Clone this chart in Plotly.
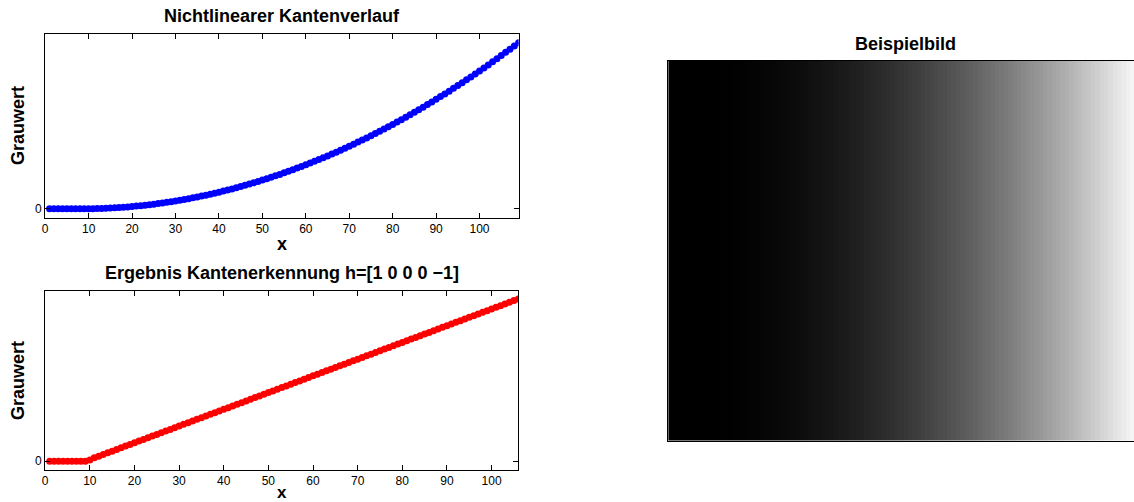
import plotly.graph_objects as go

# Gray-value profile of the nonlinear edge (one value per pixel column)
grauwert_kante = [
    0, 0, 0, 0, 0, 0, 0, 0, 1, 4,
    9, 16, 25, 36, 49, 64, 81, 100, 121, 144,
    169, 196, 225, 256, 289, 324, 361, 400, 441, 484,
    529, 576, 625, 676, 729, 784, 841, 900, 961, 1024,
    1089, 1156, 1225, 1296, 1369, 1444, 1521, 1600, 1681, 1764,
    1849, 1936, 2025, 2116, 2209, 2304, 2401, 2500, 2601, 2704,
    2809, 2916, 3025, 3136, 3249, 3364, 3481, 3600, 3721, 3844,
    3969, 4096, 4225, 4356, 4489, 4624, 4761, 4900, 5041, 5184,
    5329, 5476, 5625, 5776, 5929, 6084, 6241, 6400, 6561, 6724,
    6889, 7056, 7225, 7396, 7569, 7744, 7921, 8100, 8281, 8464,
    8649, 8836, 9025, 9216, 9409, 9604, 9801, 10000, 10201,
]

# Edge-detection response with h = [1 0 0 0 -1]
grauwert_ergebnis = [
    0, 0, 0, 0, 0, 0, 0, 0, 0, 6,
    16, 24, 32, 40, 48, 56, 64, 72, 80, 88,
    96, 104, 112, 120, 128, 136, 144, 152, 160, 168,
    176, 184, 192, 200, 208, 216, 224, 232, 240, 248,
    256, 264, 272, 280, 288, 296, 304, 312, 320, 328,
    336, 344, 352, 360, 368, 376, 384, 392, 400, 408,
    416, 424, 432, 440, 448, 456, 464, 472, 480, 488,
    496, 504, 512, 520, 528, 536, 544, 552, 560, 568,
    576, 584, 592, 600, 608, 616, 624, 632, 640, 648,
    656, 664, 672, 680, 688, 696, 704, 712, 720, 728,
    736, 744, 752, 760, 768, 776,
]

x_kante = list(range(1, len(grauwert_kante) + 1))
x_ergebnis = list(range(1, len(grauwert_ergebnis) + 1))
x_ticks = [0, 10, 20, 30, 40, 50, 60, 70, 80, 90, 100]
y_ticks = [0]
y_ticklabels = ["0"]

W, H = 1134, 502
FONT = "Liberation Sans, Arial, Helvetica, sans-serif"


def px_x(p):
    return p / W


def px_y(p):
    return 1 - p / H


fig = go.Figure()

fig.add_trace(go.Scatter(
    x=x_kante, y=grauwert_kante, mode="lines+markers",
    line=dict(color="#0000ff", width=1.5),
    marker=dict(color="#0000ff", size=7),
    xaxis="x", yaxis="y", showlegend=False,
))

fig.add_trace(go.Scatter(
    x=x_ergebnis, y=grauwert_ergebnis, mode="lines+markers",
    line=dict(color="#ff0000", width=1.5),
    marker=dict(color="#ff0000", size=7),
    xaxis="x2", yaxis="y2", showlegend=False,
))

# Example image: every row carries the same edge profile
n_rows = 87
bild = [grauwert_kante for _ in range(n_rows)]
fig.add_trace(go.Heatmap(
    z=bild, x=x_kante, y=list(range(1, n_rows + 1)),
    colorscale=[[0, "#000000"], [1, "#ffffff"]],
    zmin=min(grauwert_kante), zmax=max(grauwert_kante),
    showscale=False, hoverinfo="skip",
    xaxis="x3", yaxis="y3",
))

axis_common = dict(
    showline=True, linecolor="black", linewidth=1, mirror="ticks",
    ticks="inside", ticklen=5, tickcolor="black", tickwidth=1,
    showgrid=False, zeroline=False,
    tickfont=dict(family=FONT, size=12, color="black"),
)


def y_range(vals):
    top = max(vals)
    pad = 0.052 * top
    return [-pad, top + pad]


fig.update_layout(
    width=W, height=H, autosize=False,
    margin=dict(l=0, r=0, t=0, b=0),
    paper_bgcolor="white", plot_bgcolor="white",
    xaxis=dict(domain=[px_x(42.3), px_x(517)], anchor="y",
               range=[0, len(grauwert_kante)], tickvals=x_ticks, **axis_common),
    yaxis=dict(domain=[px_y(217.5), px_y(34)], anchor="x",
               range=y_range(grauwert_kante), tickvals=y_ticks,
               ticktext=y_ticklabels, **axis_common),
    xaxis2=dict(domain=[px_x(42.3), px_x(516.7)], anchor="y2",
                range=[0, len(grauwert_ergebnis)], tickvals=x_ticks, **axis_common),
    yaxis2=dict(domain=[px_y(469.6), px_y(290.5)], anchor="x2",
                range=y_range(grauwert_ergebnis), tickvals=y_ticks,
                ticktext=y_ticklabels, **axis_common),
    # image runs past the right edge of the page, so no right frame line
    xaxis3=dict(domain=[px_x(667), 1.0], anchor="y3",
                range=[0.5, 107.4], showticklabels=False, ticks="",
                showline=True, linecolor="black", linewidth=1, mirror=True,
                showgrid=False, zeroline=False),
    yaxis3=dict(domain=[px_y(440.7), px_y(60.7)], anchor="x3",
                range=[n_rows + 0.5, 0.5], showticklabels=False, ticks="",
                showline=True, linecolor="black", linewidth=1, mirror=False,
                showgrid=False, zeroline=False),
)


def label(text, x, y, angle=0, size=18, yanchor="middle", pad=1):
    fig.add_annotation(
        text=f"<b>{text}</b>", x=px_x(x), y=px_y(y), xref="paper", yref="paper",
        showarrow=False, xanchor="center", yanchor=yanchor, textangle=angle,
        borderpad=pad, font=dict(family=FONT, size=size, color="black"),
    )


label("Nichtlinearer Kantenverlauf", 279.5, 16)
label("Ergebnis Kantenerkennung h=[1 0 0 0 \u22121]", 280, 273)
label("Beispielbild", 905, 44)
label("x", 280, 244, size=18)
label("x", 280, 503, size=17, yanchor="bottom", pad=0)
label("Grauwert", 15, 125, angle=-90)
label("Grauwert", 15, 380, angle=-90)

fig.write_html("out.html")
